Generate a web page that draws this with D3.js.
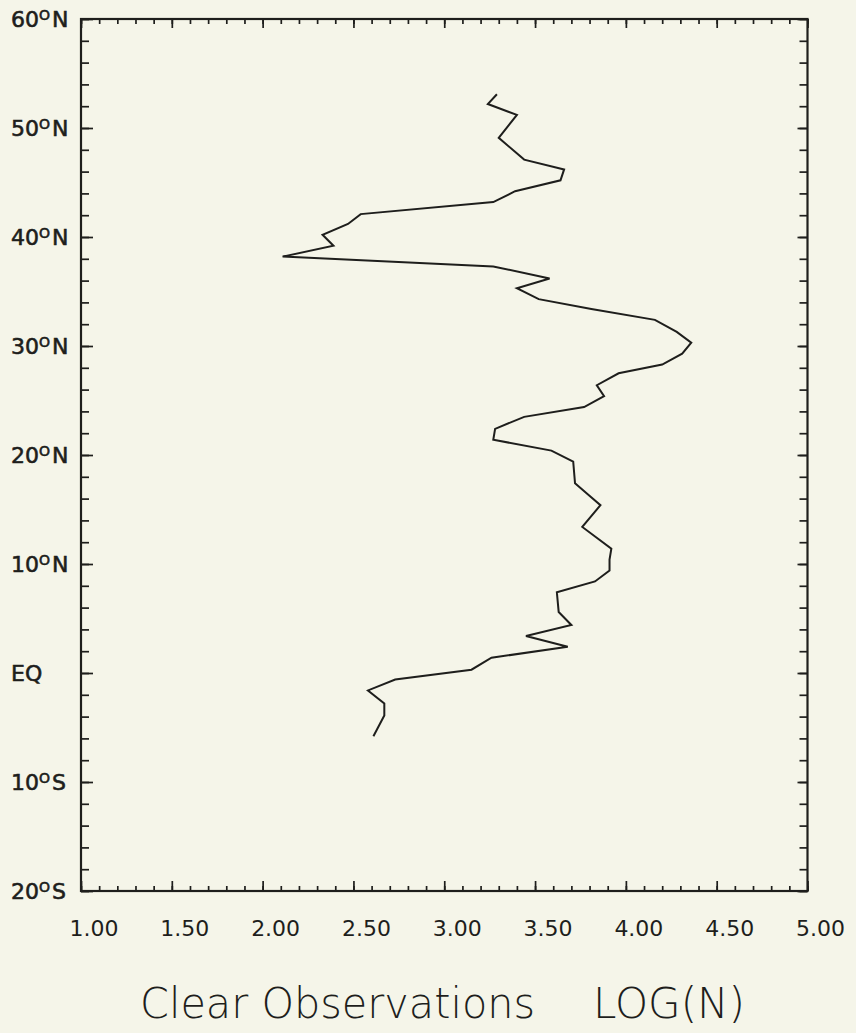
<!DOCTYPE html>
<html>
<head>
<meta charset="utf-8">
<script src="https://cdn.jsdelivr.net/npm/d3@7"></script>
<style>
  html, body { margin: 0; padding: 0; background: #f5f5e9; }
  svg { display: block; }
</style>
</head>
<body>
<div id="chart"></div>
<script>
// latitude of each profile vertex (deg, south negative)
const latitudes = [
  53.1, 52.2, 51.2, 49.1, 47.1, 46.2, 45.2, 44.2, 43.2, 42.1,
  41.2, 40.2, 39.2, 38.2, 37.3, 36.2, 35.3, 34.3, 33.4, 32.4,
  31.3, 30.3, 29.3, 28.3, 27.5, 26.4, 25.4, 24.4, 23.5, 22.4,
  21.4, 20.4, 19.4, 17.4, 16.4, 15.4, 13.4, 11.4, 10.4, 9.4,
  8.4, 7.4, 5.6, 4.4, 3.4, 2.4, 1.4, 0.3, -0.6, -1.6,
  -2.8, -3.9, -5.8
];
// LOG(N) of clear observations at those latitudes
const logCounts = [
  3.29, 3.24, 3.40, 3.30, 3.44, 3.66, 3.64, 3.39, 3.27, 2.54,
  2.47, 2.33, 2.39, 2.11, 3.27, 3.58, 3.40, 3.52, 3.81, 4.16,
  4.28, 4.36, 4.31, 4.20, 3.96, 3.84, 3.88, 3.77, 3.44, 3.28,
  3.27, 3.59, 3.71, 3.72, 3.79, 3.86, 3.76, 3.92, 3.91, 3.91,
  3.83, 3.62, 3.63, 3.70, 3.45, 3.68, 3.26, 3.15, 2.73, 2.58,
  2.67, 2.67, 2.61
];

const xTicks = [1, 1.5, 2, 2.5, 3, 3.5, 4, 4.5, 5];
const xTickLabels = ["1.00", "1.50", "2.00", "2.50", "3.00", "3.50", "4.00", "4.50", "5.00"];
const latTicks = [60, 50, 40, 30, 20, 10, 0, -10, -20];
const latTickLabels = ["60°N", "50°N", "40°N", "30°N", "20°N", "10°N", "EQ", "10°S", "20°S"];

const width = 856, height = 1033;
const margin = { top: 19, right: 48.5, bottom: 142, left: 81 };
const ink = "#1e1e1c";

const svg = d3.select("#chart").append("svg")
  .attr("width", width)
  .attr("height", height);

const x = d3.scaleLinear().domain([1, 5]).range([margin.left, width - margin.right]);
const y = d3.scaleLinear().domain([-20, 60]).range([height - margin.bottom, margin.top]);

const x0 = x.range()[0], x1 = x.range()[1];
const y0 = y.range()[1], y1 = y.range()[0];

// inward ticks on all four sides: minor every 0.1 / 2 deg, major every 0.5 / 10 deg
function ticks(axisFn, scale, count, size, transform) {
  svg.append("g")
    .attr("transform", transform)
    .call(axisFn(scale).ticks(count).tickSize(size).tickFormat(""))
    .call(g => g.select(".domain").remove())
    .selectAll("line")
    .attr("stroke", ink)
    .attr("stroke-width", 1.7);
}
ticks(d3.axisBottom, x, 40, -5, `translate(0,${y1})`);
ticks(d3.axisBottom, x, 8, -10, `translate(0,${y1})`);
ticks(d3.axisTop, x, 40, -5, `translate(0,${y0})`);
ticks(d3.axisTop, x, 8, -9, `translate(0,${y0})`);
ticks(d3.axisLeft, y, 40, -8, `translate(${x0},0)`);
ticks(d3.axisLeft, y, 8, -12, `translate(${x0},0)`);
ticks(d3.axisRight, y, 40, -8, `translate(${x1},0)`);
ticks(d3.axisRight, y, 8, -10, `translate(${x1},0)`);

// frame
svg.append("rect")
  .attr("x", x0).attr("y", y0)
  .attr("width", x1 - x0).attr("height", y1 - y0)
  .attr("fill", "none")
  .attr("stroke", ink)
  .attr("stroke-width", 2.2);

// profile line
const profile = latitudes.map((lat, i) => ({ lat: lat, v: logCounts[i] }));
svg.append("path")
  .datum(profile)
  .attr("fill", "none")
  .attr("stroke", ink)
  .attr("stroke-width", 2)
  .attr("stroke-linejoin", "miter")
  .attr("d", d3.line().x(d => x(d.v)).y(d => y(d.lat)));

// x tick labels (printed a little right of each tick, as on the original)
svg.selectAll(".xlab")
  .data(xTicks)
  .enter().append("text")
  .attr("class", "xlab")
  .attr("x", d => x(d) + 13)
  .attr("y", 936)
  .attr("text-anchor", "middle")
  .attr("font-family", "DejaVu Sans")
  .attr("font-size", 22)
  .attr("fill", ink)
  .text((d, i) => xTickLabels[i]);

// latitude labels with a raised small "o" for degrees
latTicks.forEach((t, i) => {
  const parts = latTickLabels[i].split("°");
  const txt = svg.append("text")
    .attr("x", 11)
    .attr("y", y(t) + 8)
    .attr("font-family", "DejaVu Sans")
    .attr("font-size", 22)
    .attr("fill", ink)
    .attr("stroke", ink)
    .attr("stroke-width", 0.6);
  txt.append("tspan").text(parts[0]);
  if (parts.length > 1) {
    txt.append("tspan").attr("font-size", 14).attr("dx", 0).attr("dy", -7).text("O");
    txt.append("tspan").attr("dx", 2).attr("dy", 7).text(parts[1]);
  }
});

// axis title
svg.append("text")
  .attr("x", 140).attr("y", 1018)
  .attr("textLength", 395).attr("lengthAdjust", "spacingAndGlyphs")
  .attr("font-family", "DejaVu Sans")
  .attr("font-weight", 200)
  .attr("font-size", 42)
  .attr("fill", ink)
  .text("Clear Observations");
svg.append("text")
  .attr("x", 593).attr("y", 1018)
  .attr("textLength", 152).attr("lengthAdjust", "spacingAndGlyphs")
  .attr("font-family", "DejaVu Sans")
  .attr("font-weight", 200)
  .attr("font-size", 42)
  .attr("fill", ink)
  .text("LOG(N)");
</script>
</body>
</html>
